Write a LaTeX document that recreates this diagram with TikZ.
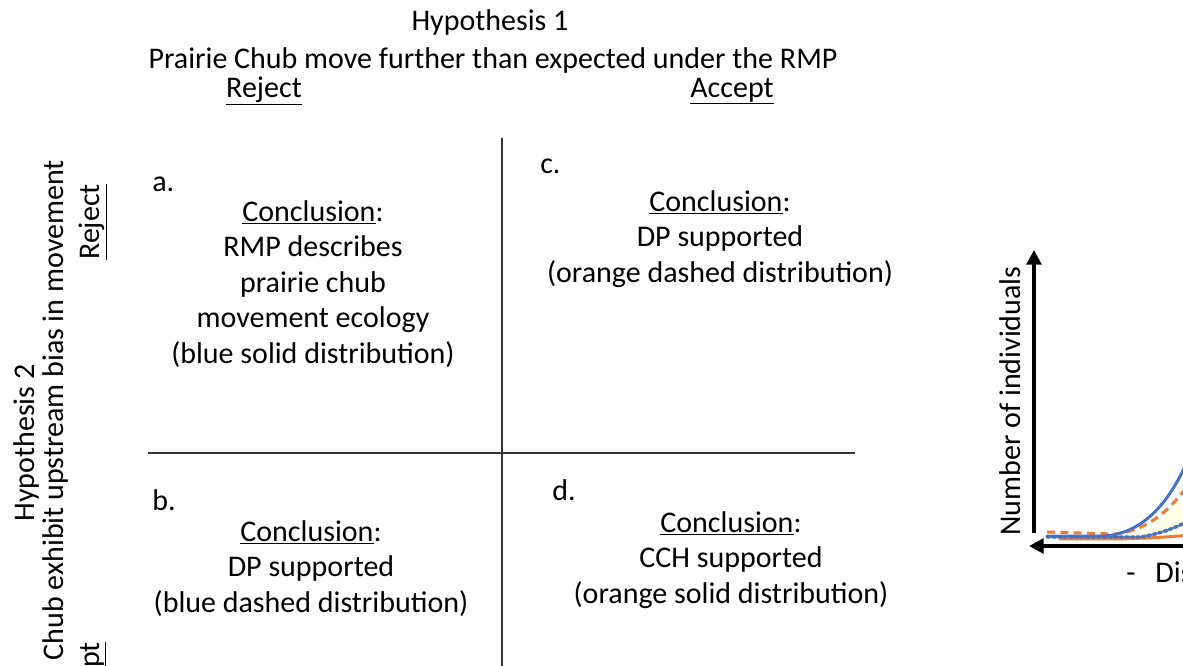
\documentclass[tikz,border=0pt]{standalone}
\usepackage{fontspec}
\setmainfont{Carlito}
\usetikzlibrary{arrows.meta}
\definecolor{offblue}{HTML}{4472C4}
\definecolor{offorange}{HTML}{ED7D31}
\begin{document}
\begin{tikzpicture}[x=0.75pt,y=-0.75pt,
  txt/.style={font=\fontsize{22.5}{26.6}\selectfont, align=center, inner sep=0pt, anchor=base},
  lbl/.style={font=\fontsize{22.5}{26.6}\selectfont, inner sep=0pt, anchor=base west},
  gridline/.style={draw=black!80, line width=1pt},
  axisline/.style={line width=3.3pt, -{Triangle[length=11pt,width=11pt]}},
  curve/.style={line width=2.2pt, line cap=round}]
\useasboundingbox (0,0) rectangle (1183,665);
\clip (0,0) rectangle (1183,665);
\fill[white] (0,0) rectangle (1183,665);

% top header
\node[txt] (h1) at (490,30) {Hypothesis 1};
\node[txt] (h1q) at (493,68) {Prairie Chub move further than expected under the RMP};
\node[txt] (h1r) at (264,97) {\underline{Reject}};
\node[txt] (h1a) at (732,97) {\underline{Accept}};

% left header (rotated)
\node[txt, rotate=90] (h2) at (35,443) {Hypothesis 2};
\node[txt, rotate=90, anchor=base east] (h2q) at (63,160) {Prairie Chub exhibit upstream bias in movement};
\node[txt, rotate=90] (h2r) at (99,222) {\underline{Reject}};
\node[txt, rotate=90, anchor=base east] (h2a) at (99,642) {\underline{Accept}};

% grid
\coordinate (vtop) at (502,138);
\coordinate (vbot) at (502,670);
\coordinate (hl) at (148,453);
\coordinate (hr) at (855,453);
\draw[gridline] (vtop) -- (vbot);
\draw[gridline] (hl) -- (hr);

% quadrant a
\node[lbl] (la) at (152,191) {a.};
\node[txt] (qa) at (313,363) {\underline{Conclusion}:\\RMP describes\\prairie chub\\movement ecology\\(blue solid distribution)};
% quadrant c
\node[lbl] (lc) at (540,173) {c.};
\node[txt] (qc) at (720,282) {\underline{Conclusion}:\\DP supported\\(orange dashed distribution)};
% quadrant b
\node[lbl] (lb) at (152,510) {b.};
\node[txt] (qb) at (311,612) {\underline{Conclusion}:\\DP supported\\(blue dashed distribution)};
% quadrant d
\node[lbl] (ld) at (552,500) {d.};
\node[txt] (qd) at (731,603) {\underline{Conclusion}:\\CCH supported\\(orange solid distribution)};

% plot
\fill[cyan!8] (1110,536) .. controls (1145,532) and (1170,508) .. (1190,470) -- (1190,540) -- (1110,540) -- cycle;
\fill[yellow!10] (1125,536) .. controls (1155,530) and (1172,510) .. (1190,488) -- (1190,535) -- cycle;
\coordinate (yb) at (1034,533);
\coordinate (yt) at (1034,250);
\coordinate (xr) at (1195,546);
\coordinate (xl) at (1029,546);
\draw[axisline] (yb) -- (yt);
\draw[axisline] (xr) -- (xl);
\node[txt, rotate=90] (ylab) at (1020,401) {Number of individuals};
\node[lbl] (xlab) at (1126,582) {-\hspace{15pt}Distance};

\draw[curve, offorange] (1060,539) -- (1120,539) .. controls (1150,538) and (1170,537) .. (1190,535);
\draw[curve, offblue, dotted, line width=2.6pt] (1047,537) -- (1140,537) .. controls (1160,534) and (1175,528) .. (1190,520);
\draw[curve, offorange, dash pattern=on 6pt off 4pt, line cap=butt] (1047,532) -- (1115,534) .. controls (1150,530) and (1172,508) .. (1190,482);
\draw[curve, offblue] (1047,536) -- (1105,536) .. controls (1140,533) and (1168,508) .. (1190,455);
\end{tikzpicture}
\end{document}
